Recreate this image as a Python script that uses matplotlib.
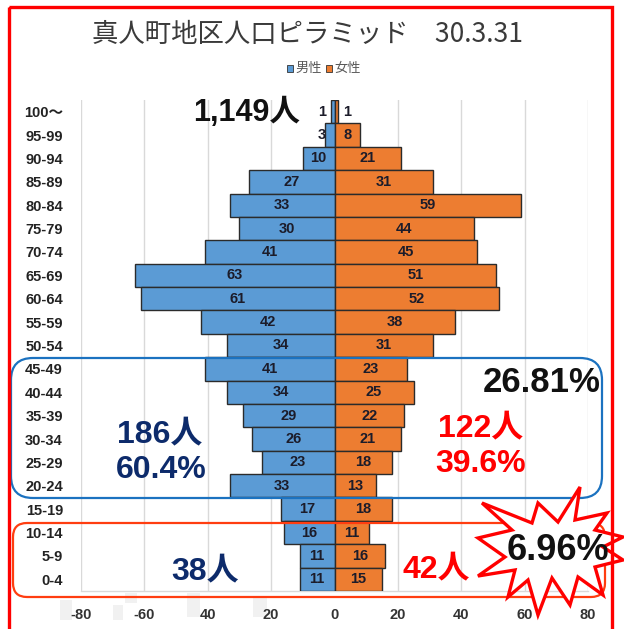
import matplotlib
matplotlib.use("Agg")
import matplotlib.pyplot as plt
from matplotlib.patches import FancyBboxPatch, Rectangle, Polygon
import numpy as np

plt.rcParams['font.family'] = ['Liberation Sans', 'Noto Sans CJK JP', 'DejaVu Sans']

# ---- data ----
age_groups = ["100〜", "95-99", "90-94", "85-89", "80-84", "75-79", "70-74", "65-69",
              "60-64", "55-59", "50-54", "45-49", "40-44", "35-39", "30-34", "25-29",
              "20-24", "15-19", "10-14", "5-9", "0-4"]
male = [1, 3, 10, 27, 33, 30, 41, 63, 61, 42, 34, 41, 34, 29, 26, 23, 33, 17, 16, 11, 11]
female = [1, 8, 21, 31, 59, 44, 45, 51, 52, 38, 31, 23, 25, 22, 21, 18, 13, 18, 11, 16, 15]
x_ticks = [-80, -60, -40, -20, 0, 20, 40, 60, 80]
x_tick_labels = ["-80", "-60", "40", "20", "0", "20", "40", "60", "80"]
title_text = "真人町地区人口ピラミッド　30.3.31"
legend_labels = ["男性", "女性"]

W, H = 624, 629
BLUE = "#5B9BD5"
ORANGE = "#ED7D31"
NAVY = "#0D2B6B"
RED = "#FF0000"

fig = plt.figure(figsize=(W / 100, H / 100), dpi=100)
fig.patch.set_facecolor("white")

# main axes
L, R, T, B = 81, 588, 100, 591
ax = fig.add_axes([L / W, 1 - B / H, (R - L) / W, (B - T) / H])
y = np.arange(len(age_groups))
ax.barh(y, [-v for v in male], height=1.0, color=BLUE, edgecolor="#2B2B2B", linewidth=1.0, zorder=3)
ax.barh(y, female, height=1.0, color=ORANGE, edgecolor="#2B2B2B", linewidth=1.0, zorder=3)
for i, (m, f) in enumerate(zip(male, female)):
    ax.text(-max(m / 2, 4), i, str(m), ha="center", va="center", fontsize=10.5,
            fontweight="bold", color="#1C1C2A", zorder=4)
    ax.text(max(f / 2, 4), i, str(f), ha="center", va="center", fontsize=10.5,
            fontweight="bold", color="#1C1C2A", zorder=4)

ax.set_xlim(-80, 80)
ax.set_ylim(len(age_groups) - 0.5, -0.5)
ax.set_xticks(x_ticks)
ax.set_xticklabels(x_tick_labels, fontsize=10.5, fontweight="bold", color="#333333")
ax.set_yticks(y)
ax.set_yticklabels(age_groups, fontsize=10.5, fontweight="bold", color="#222222")
ax.tick_params(axis="both", length=0)
ax.tick_params(axis="y", pad=13)
ax.tick_params(axis="x", pad=12)
ax.grid(axis="x", color="#D9D9D9", linewidth=1.0, zorder=0)
for s in ["left", "right", "top"]:
    ax.spines[s].set_visible(False)
ax.spines["bottom"].set_color("#D9D9D9")
ax.spines["bottom"].set_linewidth(1.0)
ax.set_axisbelow(True)

# overlay in pixel coordinates
ov = fig.add_axes([0, 0, 1, 1], zorder=10)
ov.set_xlim(0, W)
ov.set_ylim(H, 0)
ov.axis("off")
ov.patch.set_alpha(0)

# faint smudges near left x tick labels (drawn on the figure, behind the axes text)
for (sx, sy, sw, sh) in [(60, 600, 12, 20), (113, 605, 10, 15), (125, 593, 12, 10),
                         (187, 593, 13, 24), (253, 598, 14, 19)]:
    fig.add_artist(Rectangle((sx / W, 1 - (sy + sh) / H), sw / W, sh / H,
                             transform=fig.transFigure, facecolor="#F1F1F1",
                             edgecolor="none", zorder=-5))

# title and legend
ov.text(307, 34, title_text, ha="center", va="center", fontsize=19,
        family=["Noto Sans CJK JP"], color="#3A3A3A")
ov.add_patch(Rectangle((287, 64.5), 6, 7, facecolor=BLUE, edgecolor="#333333", lw=0.6))
ov.text(295, 68, legend_labels[0], ha="left", va="center", fontsize=9.5,
        family=["Noto Sans CJK JP"], color="#595959")
ov.add_patch(Rectangle((326, 64.5), 6, 7, facecolor=ORANGE, edgecolor="#333333", lw=0.6))
ov.text(334, 68, legend_labels[1], ha="left", va="center", fontsize=9.5,
        family=["Noto Sans CJK JP"], color="#595959")

# rounded boxes
ov.add_patch(FancyBboxPatch((11, 358), 591, 140, boxstyle="round,pad=0,rounding_size=22",
                            facecolor="none", edgecolor="#1B72C0", lw=1.6, zorder=2))
ov.add_patch(FancyBboxPatch((13, 523), 592, 74, boxstyle="round,pad=0,rounding_size=14",
                            facecolor="none", edgecolor="#FF3D10", lw=1.6, zorder=2))

# annotations
def big(x, yy, s, color, size, weight="bold"):
    ov.text(x, yy, s, ha="center", va="center", fontsize=size, fontweight=weight,
            color=color, zorder=6, family=["Liberation Sans", "Noto Sans CJK JP"])

big(247, 113, "1,149人", "#111111", 22)
big(542, 382, "26.81%", "#111111", 25)
big(160, 434, "186人", NAVY, 23)
big(161, 470, "60.4%", NAVY, 23)
big(481, 428, "122人", RED, 23)
big(481, 464, "39.6%", RED, 23)
big(205, 571, "38人", NAVY, 23)
big(436, 569, "42人", RED, 23)

# starburst
star = [(580, 487), (575, 520), (607, 513), (595, 530), (623, 537), (603, 547),
        (623, 560), (595, 567), (603, 595), (578, 577), (570, 605), (552, 578),
        (538, 615), (528, 580), (508, 597), (515, 570), (478, 576), (505, 557),
        (478, 538), (512, 530), (482, 503), (532, 523), (538, 503), (558, 522)]
ov.add_patch(Polygon(star, closed=True, facecolor="white", edgecolor=RED, lw=2.4,
                     joinstyle="miter", zorder=7))
ov.text(558, 551, "6.96%", ha="center", va="center", fontsize=26, fontweight="bold",
        color="#111111", zorder=8, family=["Liberation Sans"])

# outer red border
ov.add_patch(Rectangle((9, 7), 603, 640, facecolor="none", edgecolor=RED, lw=2.4, zorder=9))

fig.savefig("out.png", dpi=100)
